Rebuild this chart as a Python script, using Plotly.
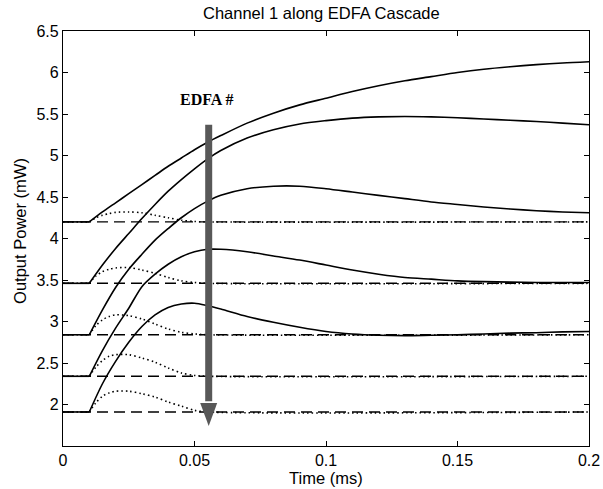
import plotly.graph_objects as go

# ---- data ----
t_solid = [0.01, 0.015, 0.02, 0.025, 0.03, 0.035, 0.04, 0.045, 0.05, 0.055, 0.06,
           0.07, 0.08, 0.09, 0.10, 0.11, 0.12, 0.13, 0.14, 0.15, 0.16, 0.17, 0.18, 0.19, 0.20]

edfa1 = [4.20, 4.32, 4.43, 4.54, 4.65, 4.76, 4.87, 4.97, 5.07, 5.16, 5.24,
         5.39, 5.51, 5.61, 5.69, 5.77, 5.84, 5.90, 5.95, 6.00, 6.04, 6.07, 6.095, 6.115, 6.13]
edfa2 = [3.46, 3.68, 3.88, 4.06, 4.24, 4.41, 4.57, 4.71, 4.84, 4.96, 5.06,
         5.21, 5.31, 5.38, 5.42, 5.45, 5.465, 5.47, 5.465, 5.455, 5.44, 5.425, 5.41, 5.39, 5.37]
edfa3 = [2.84, 3.14, 3.41, 3.63, 3.81, 3.98, 4.12, 4.25, 4.36, 4.45, 4.52,
         4.60, 4.63, 4.63, 4.60, 4.56, 4.52, 4.48, 4.44, 4.41, 4.38, 4.355, 4.335, 4.32, 4.31]
edfa4 = [2.34, 2.65, 2.92, 3.16, 3.42, 3.57, 3.69, 3.78, 3.84, 3.87, 3.87,
         3.84, 3.79, 3.74, 3.68, 3.62, 3.57, 3.53, 3.51, 3.49, 3.48, 3.475, 3.47, 3.47, 3.47]
edfa5 = [1.91, 2.25, 2.52, 2.75, 2.94, 3.08, 3.17, 3.21, 3.22, 3.19, 3.15,
         3.06, 2.99, 2.93, 2.88, 2.85, 2.835, 2.83, 2.835, 2.84, 2.85, 2.86, 2.865, 2.875, 2.88]
solid_series = [edfa1, edfa2, edfa3, edfa4, edfa5]

t_dot = [0.01, 0.0125, 0.015, 0.0175, 0.02, 0.025, 0.03, 0.035, 0.04, 0.045, 0.05, 0.055, 0.20]
dot1 = [4.20, 4.25, 4.28, 4.30, 4.315, 4.32, 4.31, 4.28, 4.25, 4.22, 4.205, 4.20, 4.20]
dot2 = [3.46, 3.55, 3.60, 3.63, 3.645, 3.65, 3.62, 3.58, 3.53, 3.49, 3.47, 3.46, 3.46]
dot3 = [2.84, 2.95, 3.02, 3.06, 3.08, 3.07, 3.03, 2.97, 2.91, 2.87, 2.85, 2.84, 2.84]
dot4 = [2.34, 2.45, 2.53, 2.58, 2.60, 2.60, 2.56, 2.51, 2.44, 2.38, 2.35, 2.34, 2.34]
dot5 = [1.91, 2.02, 2.10, 2.14, 2.16, 2.16, 2.13, 2.09, 2.03, 1.98, 1.93, 1.91, 1.91]
dot_series = [dot1, dot2, dot3, dot4, dot5]

levels = [4.20, 3.46, 2.84, 2.34, 1.91]
t_start = 0.0
t_end = 0.20

x_ticks = [0, 0.05, 0.1, 0.15, 0.2]
x_ticklabels = ["0", "0.05", "0.1", "0.15", "0.2"]
y_ticks = [2, 2.5, 3, 3.5, 4, 4.5, 5, 5.5, 6, 6.5]
y_ticklabels = ["2", "2.5", "3", "3.5", "4", "4.5", "5", "5.5", "6", "6.5"]

FONT = "Liberation Sans, Arial, Helvetica, sans-serif"

fig = go.Figure()

# dashed steady-state levels
for lv in levels:
    fig.add_trace(go.Scatter(x=[t_start, t_end], y=[lv, lv], mode="lines",
                             line=dict(color="black", width=1.4, dash="11px,6px"),
                             hoverinfo="skip", showlegend=False))

# dotted curves
for ser in dot_series:
    xs = [t_start, t_dot[0], None] + t_dot
    ys = [ser[0], ser[0], None] + ser
    fig.add_trace(go.Scatter(x=xs, y=ys, mode="lines", connectgaps=False,
                             line=dict(color="black", width=1.6, dash="1.5px,3px",
                                       shape="spline", smoothing=0.8),
                             hoverinfo="skip", showlegend=False))

# solid curves
for ser in solid_series:
    xs = [t_start, t_solid[0], None] + t_solid
    ys = [ser[0], ser[0], None] + ser
    fig.add_trace(go.Scatter(x=xs, y=ys, mode="lines", connectgaps=False,
                             line=dict(color="black", width=1.6,
                                       shape="spline", smoothing=0.8),
                             hoverinfo="skip", showlegend=False))

# arrow (shaft + head)
ARROW_X = 0.0554
ARROW_TOP = 5.37
ARROW_TIP = 1.74
ARROW_COL = "#585858"
fig.add_shape(type="line", x0=ARROW_X, x1=ARROW_X, y0=ARROW_TOP, y1=ARROW_TIP + 0.30,
              xref="x", yref="y", line=dict(color=ARROW_COL, width=7))
fig.add_shape(type="path", xref="x", yref="y", xsizemode="pixel", ysizemode="pixel",
              xanchor=ARROW_X, yanchor=ARROW_TIP,
              path="M -8.5,23 L 8.5,23 L 0,0 Z",
              fillcolor=ARROW_COL, line=dict(color=ARROW_COL, width=0))

fig.add_annotation(x=0.0544, y=5.67, xref="x", yref="y", text="<b>EDFA #</b>",
                   showarrow=False, font=dict(family="Liberation Serif, Times New Roman, serif",
                                              size=16, color="black"))

# titles
fig.add_annotation(x=0.4905, y=1.044, xref="paper", yref="paper",
                   text="Channel 1 along EDFA Cascade", showarrow=False,
                   xanchor="center", yanchor="middle",
                   font=dict(family=FONT, size=16.5, color="black"))
fig.add_annotation(x=0.5, y=-0.077, xref="paper", yref="paper",
                   text="Time (ms)", showarrow=False, xanchor="center", yanchor="middle",
                   font=dict(family=FONT, size=16.5, color="black"))
fig.add_annotation(x=-0.082, y=0.518, xref="paper", yref="paper",
                   text="Output Power (mW)", showarrow=False, textangle=-90,
                   xanchor="center", yanchor="middle",
                   font=dict(family=FONT, size=16.5, color="black"))

axis_common = dict(showline=True, linecolor="black", linewidth=1.2, mirror="ticks",
                   ticks="inside", ticklen=5, tickcolor="black", tickwidth=1,
                   showgrid=False, zeroline=False, automargin=False,
                   tickfont=dict(family=FONT, size=16, color="black"))

fig.update_layout(
    width=603, height=489,
    margin=dict(l=63, r=14, t=31, b=43, pad=0, autoexpand=False),
    paper_bgcolor="white", plot_bgcolor="white",
    showlegend=False,
    xaxis=dict(range=[0, 0.2], tickvals=x_ticks, ticktext=x_ticklabels, **axis_common),
    yaxis=dict(range=[1.5, 6.5], tickvals=y_ticks, ticktext=y_ticklabels, **axis_common),
)

fig.write_html("out.html")
